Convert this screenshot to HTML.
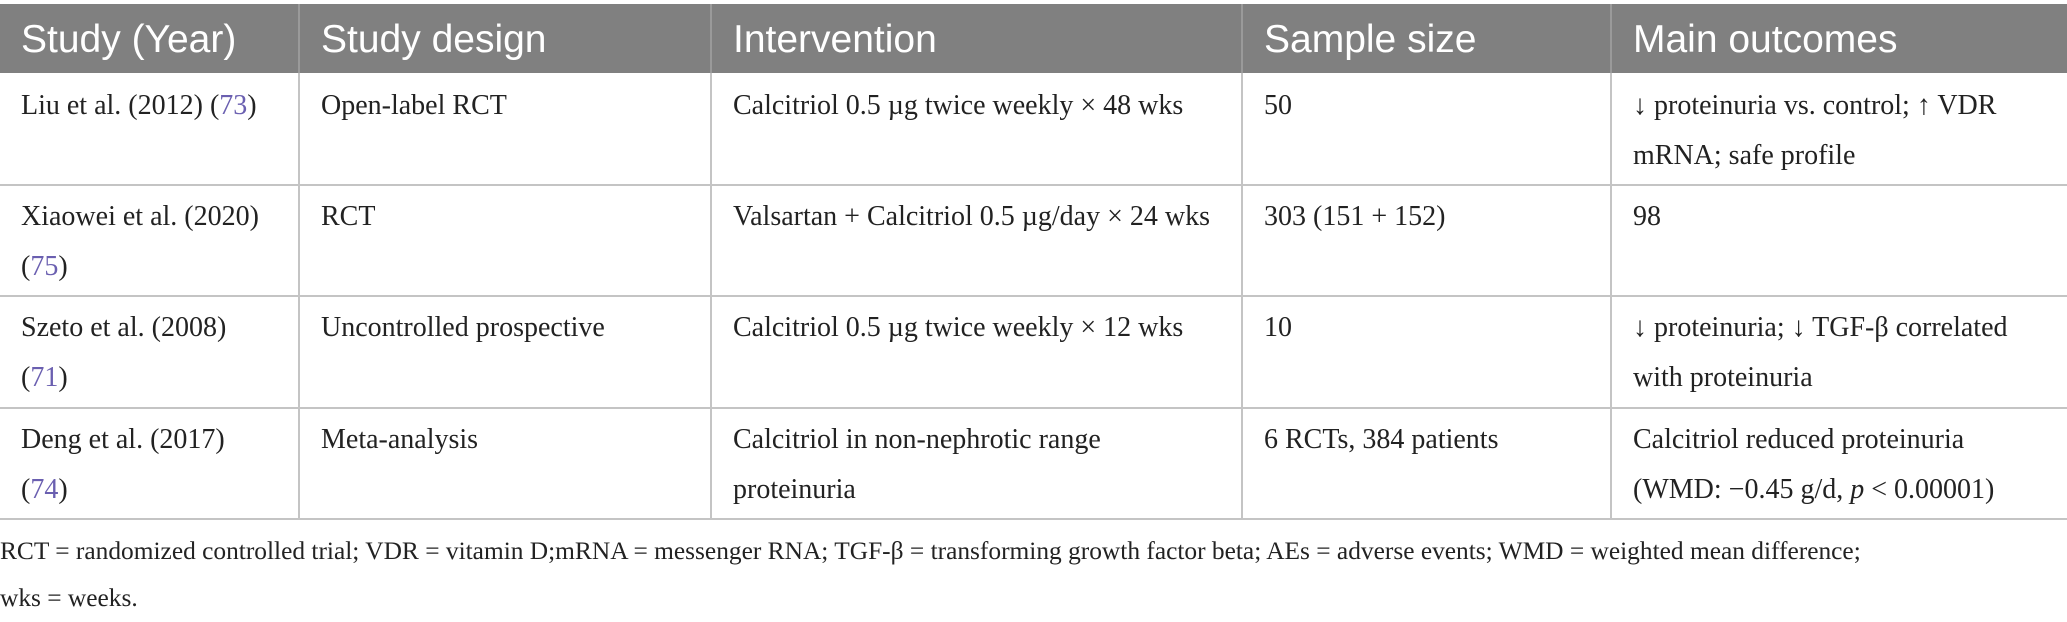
<!DOCTYPE html>
<html><head><meta charset="utf-8"><style>
body{margin:0;width:2067px;height:609px;background:#fff;position:relative;overflow:hidden;font-family:"Liberation Serif",serif;color:#222}
.h{position:absolute;top:4px;height:69px;background:#808080;color:#fff;font-family:"Liberation Sans",sans-serif;font-size:39px;line-height:72px;padding-left:21px;box-sizing:border-box;border-right:2px solid #9a9a9a;white-space:nowrap}
.c{position:absolute;font-size:28px;line-height:50px;padding:8px 4px 0 21px;box-sizing:border-box;border-right:2px solid #c4c4c4;border-bottom:2px solid #c4c4c4;white-space:nowrap}
.r{color:#6a5fb0}
.f{position:absolute;left:0;font-size:25.4px;line-height:47px;top:528px;width:2067px;white-space:nowrap}
</style></head><body>
<div class="h" style="left:0;width:300px">Study (Year)</div>
<div class="h" style="left:300px;width:412px">Study design</div>
<div class="h" style="left:712px;width:531px">Intervention</div>
<div class="h" style="left:1243px;width:369px">Sample size</div>
<div class="h" style="left:1612px;width:455px;border-right:none">Main outcomes</div>

<div>
<div class="c" style="left:0;top:73px;width:300px;height:113px">Liu et al. (2012) (<span class="r">73</span>)</div>
<div class="c" style="left:300px;top:73px;width:412px;height:113px">Open-label RCT</div>
<div class="c" style="left:712px;top:73px;width:531px;height:113px">Calcitriol 0.5 µg twice weekly × 48 wks</div>
<div class="c" style="left:1243px;top:73px;width:369px;height:113px">50</div>
<div class="c" style="left:1612px;top:73px;width:455px;height:113px;border-right:none">↓ proteinuria vs. control; ↑ VDR<br>mRNA; safe profile</div>
</div>
<div>
<div class="c" style="left:0;top:184px;width:300px;height:113px">Xiaowei et al. (2020)<br>(<span class="r">75</span>)</div>
<div class="c" style="left:300px;top:184px;width:412px;height:113px">RCT</div>
<div class="c" style="left:712px;top:184px;width:531px;height:113px">Valsartan + Calcitriol 0.5 µg/day × 24 wks</div>
<div class="c" style="left:1243px;top:184px;width:369px;height:113px">303 (151 + 152)</div>
<div class="c" style="left:1612px;top:184px;width:455px;height:113px;border-right:none">98</div>
</div>
<div>
<div class="c" style="left:0;top:295px;width:300px;height:114px">Szeto et al. (2008)<br>(<span class="r">71</span>)</div>
<div class="c" style="left:300px;top:295px;width:412px;height:114px">Uncontrolled prospective</div>
<div class="c" style="left:712px;top:295px;width:531px;height:114px">Calcitriol 0.5 µg twice weekly × 12 wks</div>
<div class="c" style="left:1243px;top:295px;width:369px;height:114px">10</div>
<div class="c" style="left:1612px;top:295px;width:455px;height:114px;border-right:none">↓ proteinuria; ↓ TGF-β correlated<br>with proteinuria</div>
</div>
<div>
<div class="c" style="left:0;top:407px;width:300px;height:113px">Deng et al. (2017)<br>(<span class="r">74</span>)</div>
<div class="c" style="left:300px;top:407px;width:412px;height:113px">Meta-analysis</div>
<div class="c" style="left:712px;top:407px;width:531px;height:113px">Calcitriol in non-nephrotic range<br>proteinuria</div>
<div class="c" style="left:1243px;top:407px;width:369px;height:113px">6 RCTs, 384 patients</div>
<div class="c" style="left:1612px;top:407px;width:455px;height:113px;border-right:none">Calcitriol reduced proteinuria<br>(WMD: −0.45 g/d, <i>p</i> &lt; 0.00001)</div>
</div>
<div class="f">RCT = randomized controlled trial; VDR = vitamin D;mRNA = messenger RNA; TGF-β = transforming growth factor beta; AEs = adverse events; WMD = weighted mean difference;<br>wks = weeks.</div>
</body></html>
